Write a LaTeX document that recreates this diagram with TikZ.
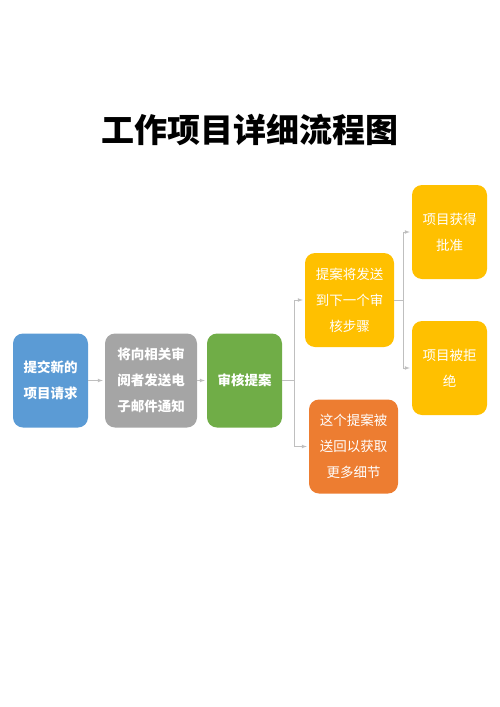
\documentclass[tikz,border=0pt]{standalone}
\usepackage{fontspec}
\newfontfamily\cjk{Noto Sans CJK SC}
\usetikzlibrary{positioning}
\definecolor{boxblue}{HTML}{5B9BD5}
\definecolor{boxgray}{HTML}{A5A5A5}
\definecolor{boxgreen}{HTML}{70AD47}
\definecolor{boxyellow}{HTML}{FFC000}
\definecolor{boxorange}{HTML}{ED7D31}
\definecolor{linkgray}{HTML}{BFBFBF}
\tikzset{
  box/.style={rounded corners=10pt, minimum height=94pt, align=center, text=white, inner sep=0pt,
    font=\cjk\fontsize{13.5}{26}\selectfont},
  link/.style={draw=linkgray, line width=.7pt, -latex, shorten >=2pt}
}

\begin{document}
\begin{tikzpicture}[x=1pt,y=-1pt]
\useasboundingbox (0,0) rectangle (500,707);
\node[font=\cjk\bfseries\fontsize{33}{33}\selectfont] (title) at (250,130) {工作项目详细流程图};
% main line
\node[box, fill=boxblue, minimum width=75pt, font=\cjk\bfseries\fontsize{13.5}{26}\selectfont] (req) at (50.5,380.5) {提交新的\\项目请求};
\node[box, fill=boxgray, minimum width=92pt, font=\cjk\bfseries\fontsize{13.5}{26}\selectfont] (mail) at (151,380.5) {将向相关审\\阅者发送电\\子邮件通知};
\node[box, fill=boxgreen, minimum width=75pt, font=\cjk\bfseries\fontsize{13.5}{26}\selectfont] (check) at (244.5,380.5) {审核提案};
% branches
\node[box, fill=boxyellow, minimum width=89pt] (next) at (349.5,300) {提案将发送\\到下一个审\\核步骤};
\node[box, fill=boxorange, minimum width=89pt] (back) at (353.5,446.5) {这个提案被\\送回以获取\\更多细节};
\node[box, fill=boxyellow, minimum width=75pt] (ok) at (449.5,232) {项目获得\\批准};
\node[box, fill=boxyellow, minimum width=75pt] (no) at (449.5,368) {项目被拒\\绝};
\draw[link] (req) -- (mail);
\draw[link] (mail) -- (check);
\draw[link] (check.east) -- ++(12,0) |- (next.west);
\draw[link] (check.east) -- ++(12,0) |- (back.west);
\draw[link] (next.east) -- ++(9,0) |- (ok.west);
\draw[link] (next.east) -- ++(9,0) |- (no.west);
\end{tikzpicture}
\end{document}
